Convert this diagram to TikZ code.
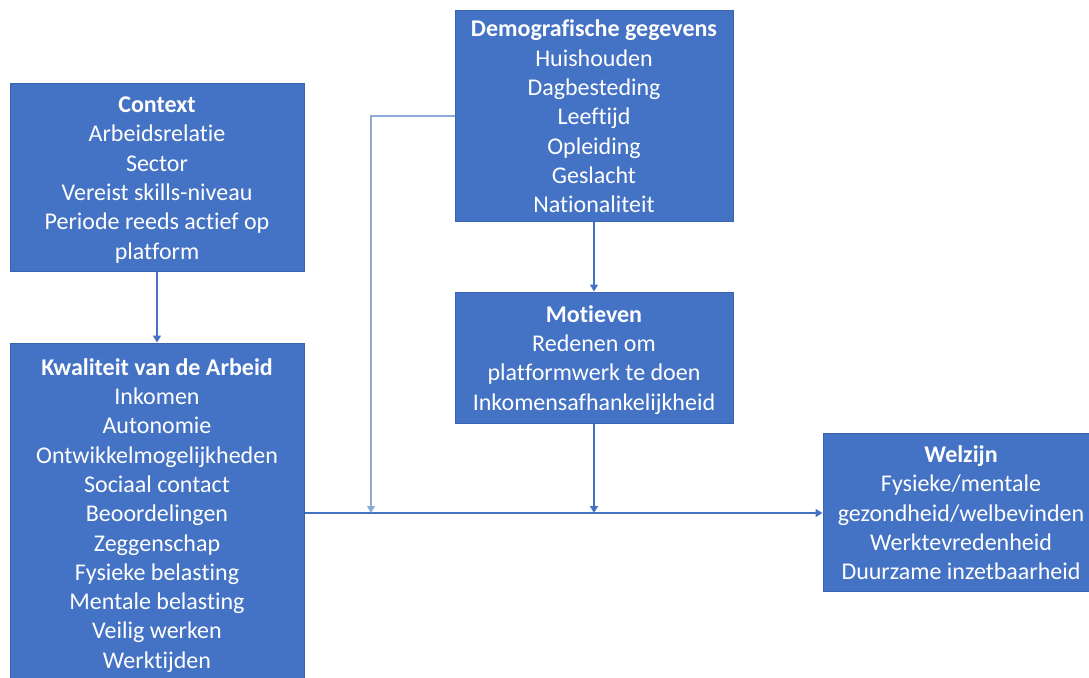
\documentclass[tikz,border=0pt]{standalone}
\usepackage{fontspec}
\setmainfont{Carlito}[Ligatures=CommonOff]
\usetikzlibrary{arrows.meta}
\definecolor{boxfill}{HTML}{4472C4}
\definecolor{boxedge}{HTML}{3A64AF}
\definecolor{lightline}{HTML}{8EAADB}
\newcommand\topstr{\rule{0pt}{23.5pt}}
\newcommand\botstr{\rule[-6pt]{0pt}{6pt}}
\tikzset{
  blk/.style={draw=boxedge, line width=1pt, fill=boxfill, text=white, align=center, inner sep=0pt,
    font=\fontsize{24}{29.3}\selectfont},
  conn/.style={draw=boxfill, line width=1.6pt, -{Triangle[width=8pt,length=7pt]}},
  lconn/.style={draw=lightline, line width=1.2pt, -{Triangle[width=8pt,length=7pt]}}
}
\begin{document}
\begin{tikzpicture}[x=1pt,y=-1pt]
\useasboundingbox (0,0) rectangle (1089,677);
\clip (0,0) rectangle (1089,677);
\node[blk, minimum width=294pt, minimum height=188pt] (ctx) at (157,177)
  {\topstr\textbf{Context}\\Arbeidsrelatie\\Sector\\Vereist skills-niveau\\Periode reeds actief op\\platform\botstr};
\node[blk, minimum width=294pt, minimum height=340pt] (kw) at (157,513)
  {\topstr\textbf{Kwaliteit van de Arbeid}\\Inkomen\\Autonomie\\Ontwikkelmogelijkheden\\Sociaal contact\\Beoordelingen\\Zeggenschap\\Fysieke belasting\\Mentale belasting\\Veilig werken\\Werktijden\botstr};
\node[blk, minimum width=278pt, minimum height=210pt] (de) at (594,116)
  {\topstr\textbf{Demografische gegevens}\\Huishouden\\Dagbesteding\\Leeftijd\\Opleiding\\Geslacht\\Nationaliteit\botstr};
\node[blk, minimum width=278pt, minimum height=131pt] (mo) at (594,357.5)
  {\topstr\textbf{Motieven}\\Redenen om\\platformwerk te doen\\Inkomensafhankelijkheid\botstr};
\node[blk, minimum width=276pt, minimum height=158pt] (wz) at (961,512.5)
  {\topstr\textbf{Welzijn}\\Fysieke/mentale\\gezondheid/welbevinden\\Werktevredenheid\\Duurzame inzetbaarheid\botstr};
\coordinate (c1) at (371,116);
\draw[conn] (ctx.south) -- (kw.north);
\draw[conn] (de.south) -- (mo.north);
\draw[conn] (kw.east) -- (kw.east -| wz.west);
\draw[conn] (mo.south) -- (mo.south |- kw.east);
\draw[lconn] (de.west) -- (c1) -- (c1 |- kw.east);
\end{tikzpicture}
\end{document}
